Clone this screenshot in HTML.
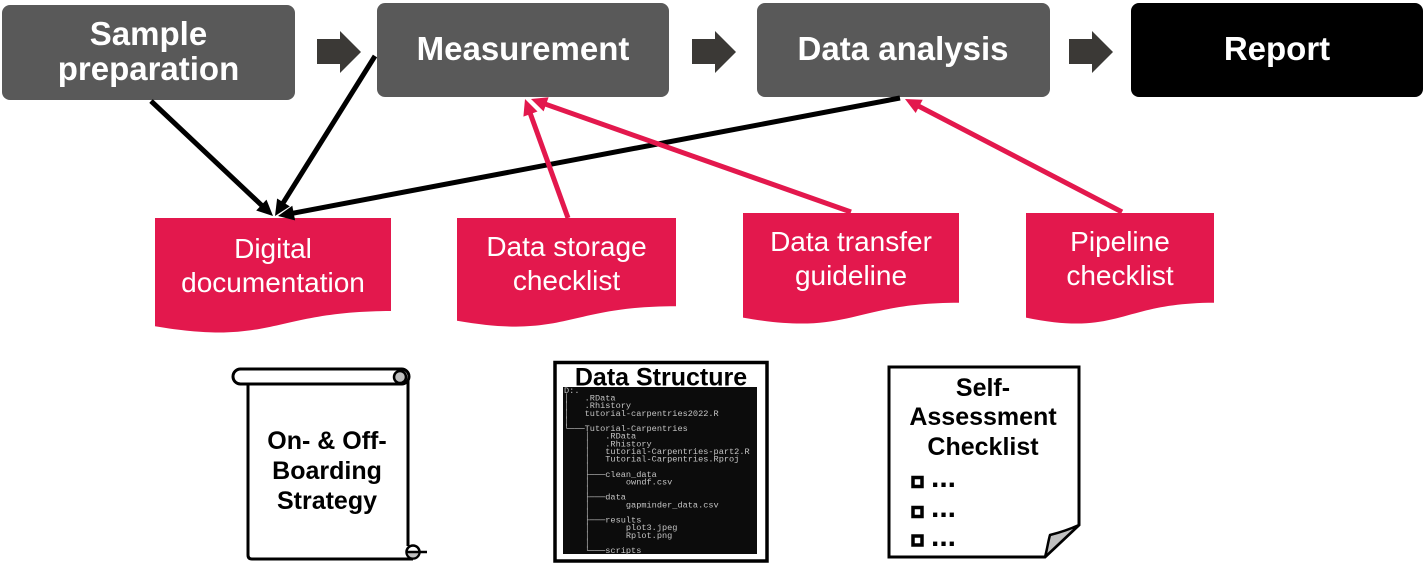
<!DOCTYPE html>
<html>
<head>
<meta charset="utf-8">
<style>
  html, body { margin: 0; padding: 0; background: #ffffff; }
  svg { display: block; }
  .bt { font-family: "Liberation Sans", Arial, sans-serif; font-weight: bold; font-size: 33px; fill: #ffffff; text-anchor: middle; }
  .dt { font-family: "Liberation Sans", Arial, sans-serif; font-size: 28px; fill: #ffffff; text-anchor: middle; }
  .kt { font-family: "Liberation Sans", Arial, sans-serif; font-weight: bold; font-size: 25px; fill: #000000; text-anchor: middle; }
  .mono { font-family: "Liberation Mono", "DejaVu Sans Mono", monospace; font-size: 8.6px; fill: #c4c4c4; white-space: pre; }
</style>
</head>
<body>
<svg width="1425" height="563" viewBox="0 0 1425 563" xmlns="http://www.w3.org/2000/svg">
  <!-- Top process boxes -->
  <rect x="2" y="5" width="293" height="95" rx="8" fill="#595959"/>
  <text class="bt" x="148.5" y="45">Sample</text>
  <text class="bt" x="148.5" y="80">preparation</text>

  <rect x="377" y="3" width="292" height="94" rx="8" fill="#595959"/>
  <text class="bt" x="523" y="60">Measurement</text>

  <rect x="757" y="3" width="293" height="94" rx="8" fill="#595959"/>
  <text class="bt" x="903" y="60">Data analysis</text>

  <rect x="1131" y="3" width="292" height="94" rx="8" fill="#000000"/>
  <text class="bt" x="1277" y="60">Report</text>

  <!-- Block arrows -->
  <polygon points="317,39 340,39 340,31 361,52 340,73 340,64 317,64" fill="#3b3936"/>
  <polygon points="692,39 715,39 715,31 736,52 715,73 715,64 692,64" fill="#3b3936"/>
  <polygon points="1069,39 1092,39 1092,31 1113,52 1092,73 1092,64 1069,64" fill="#3b3936"/>

  <!-- Document shapes -->
  <path d="M155 218 H391 V311 C273 311 273 346.5 155 326.3 Z" fill="#e3184d"/>
  <text class="dt" x="273" y="258">Digital</text>
  <text class="dt" x="273" y="292">documentation</text>

  <path d="M457 218 H676 V306.2 C566.5 306.2 566.5 339.8 457 320.7 Z" fill="#e3184d"/>
  <text class="dt" x="566.5" y="256">Data storage</text>
  <text class="dt" x="566.5" y="290">checklist</text>

  <path d="M743 213 H959 V302.8 C851 302.8 851 337 743 317.6 Z" fill="#e3184d"/>
  <text class="dt" x="851" y="251">Data transfer</text>
  <text class="dt" x="851" y="285">guideline</text>

  <path d="M1026 213 H1214 V302.8 C1120 302.8 1120 337 1026 317.6 Z" fill="#e3184d"/>
  <text class="dt" x="1120" y="251">Pipeline</text>
  <text class="dt" x="1120" y="285">checklist</text>

  <!-- Black connectors -->
  <line x1="151" y1="101" x2="262.8" y2="206.4" stroke="#000" stroke-width="5"/>
  <polygon points="273,216 256.2,210.5 266.5,199.6" fill="#000"/>
  <line x1="375" y1="56" x2="282.4" y2="204.1" stroke="#000" stroke-width="5"/>
  <polygon points="275,216 277.1,198.5 289.8,206.4" fill="#000"/>
  <line x1="900" y1="98" x2="291.8" y2="213.4" stroke="#000" stroke-width="5"/>
  <polygon points="278,216 292.3,205.7 295.1,220.4" fill="#000"/>

  <!-- Red connectors -->
  <line x1="568" y1="218" x2="529.8" y2="112.2" stroke="#e3184d" stroke-width="5"/>
  <polygon points="525,99 537.5,111.5 523.4,116.6" fill="#e3184d"/>
  <line x1="851" y1="212" x2="544.2" y2="103.7" stroke="#e3184d" stroke-width="5"/>
  <polygon points="531,99 548.6,97.3 543.6,111.4" fill="#e3184d"/>
  <line x1="1122" y1="212" x2="917.4" y2="105.5" stroke="#e3184d" stroke-width="5"/>
  <polygon points="905,99 922.7,99.7 915.7,113" fill="#e3184d"/>

  <!-- Scroll: On- & Off-Boarding Strategy -->
  <rect x="248" y="377" width="160" height="182" fill="#fff"/>
  <path d="M248 383 V555 Q248 559 252 559 H413" fill="none" stroke="#000" stroke-width="3"/>
  <line x1="408" y1="377" x2="408" y2="546" stroke="#000" stroke-width="3"/>
  <rect x="233" y="369" width="176" height="15" rx="7.5" fill="#fff" stroke="#000" stroke-width="3"/>
  <circle cx="400" cy="377" r="6" fill="#bfbfbf" stroke="#000" stroke-width="2.5"/>
  <circle cx="413" cy="552" r="6.5" fill="#fff" stroke="#000" stroke-width="2.5"/>
  <path d="M406.5 552 A6.5 6.5 0 0 0 419.5 552 Z" fill="#bfbfbf" stroke="#000" stroke-width="2"/>
  <line x1="406" y1="552" x2="427" y2="552" stroke="#000" stroke-width="2.5"/>
  <text class="kt" x="327" y="449">On- &amp; Off-</text>
  <text class="kt" x="327" y="479">Boarding</text>
  <text class="kt" x="327" y="509">Strategy</text>

  <!-- Data Structure -->
  <rect x="555" y="362.5" width="212" height="198.5" fill="#fff" stroke="#000" stroke-width="3.5"/>
  <text class="kt" x="661" y="385.5">Data Structure</text>
  <rect x="563" y="387" width="194" height="167" fill="#0c0c0c"/>
  <text class="mono" xml:space="preserve" x="564" y="393"><tspan x="564" y="393">D:.</tspan><tspan x="564" y="400.6">│   .RData</tspan><tspan x="564" y="408.2">│   .Rhistory</tspan><tspan x="564" y="415.9">│   tutorial-carpentries2022.R</tspan><tspan x="564" y="423.5">│</tspan><tspan x="564" y="431.1">└───Tutorial-Carpentries</tspan><tspan x="564" y="438.7">    │   .RData</tspan><tspan x="564" y="446.3">    │   .Rhistory</tspan><tspan x="564" y="454">    │   tutorial-Carpentries-part2.R</tspan><tspan x="564" y="461.6">    │   Tutorial-Carpentries.Rproj</tspan><tspan x="564" y="469.2">    │</tspan><tspan x="564" y="476.8">    ├───clean_data</tspan><tspan x="564" y="484.4">    │       owndf.csv</tspan><tspan x="564" y="492">    │</tspan><tspan x="564" y="499.7">    ├───data</tspan><tspan x="564" y="507.3">    │       gapminder_data.csv</tspan><tspan x="564" y="514.9">    │</tspan><tspan x="564" y="522.5">    ├───results</tspan><tspan x="564" y="530.1">    │       plot3.jpeg</tspan><tspan x="564" y="537.8">    │       Rplot.png</tspan><tspan x="564" y="545.4">    │</tspan><tspan x="564" y="553">    └───scripts</tspan></text>

  <!-- Self-Assessment Checklist -->
  <path d="M889 367 H1079 V525 L1045 557 H889 Z" fill="#fff" stroke="#000" stroke-width="3"/>
  <path d="M1079 525 C1068 530 1058 533 1050 535 C1048 542 1047 550 1045 557 Z" fill="#c0c0c0" stroke="#000" stroke-width="2.5" stroke-linejoin="round"/>
  <text class="kt" x="983" y="396">Self-</text>
  <text class="kt" x="983" y="425">Assessment</text>
  <text class="kt" x="983" y="455">Checklist</text>
  <rect x="913" y="477.5" width="9" height="9" fill="none" stroke="#000" stroke-width="3.5"/>
  <rect x="913" y="507.5" width="9" height="9" fill="none" stroke="#000" stroke-width="3.5"/>
  <rect x="913" y="536" width="9" height="9" fill="none" stroke="#000" stroke-width="3.5"/>
  <text x="931" y="487" style="font-family:'Liberation Sans',Arial,sans-serif;font-weight:bold;font-size:30px;fill:#000;">...</text>
  <text x="931" y="517" style="font-family:'Liberation Sans',Arial,sans-serif;font-weight:bold;font-size:30px;fill:#000;">...</text>
  <text x="931" y="546" style="font-family:'Liberation Sans',Arial,sans-serif;font-weight:bold;font-size:30px;fill:#000;">...</text>
</svg>
</body>
</html>
